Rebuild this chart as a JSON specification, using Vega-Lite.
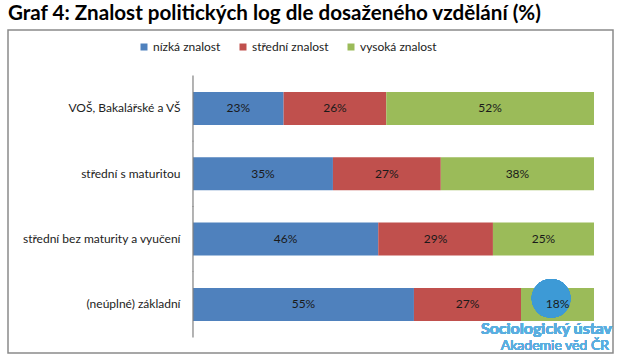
{
  "$schema": "https://vega.github.io/schema/vega-lite/v6.json",
  "width": 605,
  "height": 323,
  "autosize": {"type": "none"},
  "padding": {"left": 8, "top": 30, "right": 7, "bottom": 10},
  "background": "white",
  "title": {"text": "Graf 4: Znalost politických log dle dosaženého vzdělání (%)", "anchor": "start", "font": "Lato", "fontSize": 20.6, "fontWeight": "bold", "color": "#000000", "offset": 5},
  "config": {"view": {"stroke": "#8a8a8a", "strokeWidth": 1.5}, "font": "Lato"},
  "data": {"values": [
    {"edu": "VOŠ, Bakalářské a VŠ", "level": "nízká znalost", "share": 0.226, "ord": 1},
    {"edu": "VOŠ, Bakalářské a VŠ", "level": "střední znalost", "share": 0.256, "ord": 2},
    {"edu": "VOŠ, Bakalářské a VŠ", "level": "vysoká znalost", "share": 0.518, "ord": 3},
    {"edu": "střední s maturitou", "level": "nízká znalost", "share": 0.349, "ord": 1},
    {"edu": "střední s maturitou", "level": "střední znalost", "share": 0.269, "ord": 2},
    {"edu": "střední s maturitou", "level": "vysoká znalost", "share": 0.382, "ord": 3},
    {"edu": "střední bez maturity a vyučení", "level": "nízká znalost", "share": 0.462, "ord": 1},
    {"edu": "střední bez maturity a vyučení", "level": "střední znalost", "share": 0.286, "ord": 2},
    {"edu": "střední bez maturity a vyučení", "level": "vysoká znalost", "share": 0.252, "ord": 3},
    {"edu": "(neúplné) základní", "level": "nízká znalost", "share": 0.551, "ord": 1},
    {"edu": "(neúplné) základní", "level": "střední znalost", "share": 0.267, "ord": 2},
    {"edu": "(neúplné) základní", "level": "vysoká znalost", "share": 0.182, "ord": 3}
  ]},
  "layer": [
    {
      "mark": {"type": "bar"},
      "encoding": {
        "y": {"field": "edu", "type": "nominal", "sort": ["VOŠ, Bakalářské a VŠ", "střední s maturitou", "střední bez maturity a vyučení", "(neúplné) základní"],
          "scale": {"paddingInner": 0.495, "paddingOuter": 0.72, "align": 0.659},
          "axis": {"orient": "left", "offset": -185, "title": null, "ticks": false, "domain": false, "labelPadding": 13, "labelFontSize": 12, "labelColor": "#222222", "labelLimit": 250, "labelFont": "Lato"}},
        "x": {"field": "share", "type": "quantitative", "stack": "zero", "scale": {"domain": [-0.4613, 1.0474], "nice": false, "zero": false}, "axis": null},
        "color": {"field": "level", "type": "nominal",
          "scale": {"domain": ["nízká znalost", "střední znalost", "vysoká znalost"], "range": ["#4F81BD", "#C0504D", "#9BBB59"]},
          "legend": {"orient": "none", "legendX": 130, "legendY": 11, "direction": "horizontal", "title": null, "symbolType": "square", "symbolSize": 49, "symbolStrokeWidth": 0, "labelFontSize": 12, "labelFont": "Lato", "labelColor": "#222222", "columnPadding": 16, "symbolOffset": 0, "labelOffset": 3}},
        "order": {"field": "ord", "type": "quantitative"}
      }
    },
    {
      "mark": {"type": "point", "filled": true, "size": 1500, "fill": "#3d9ad6", "fillOpacity": 0.8, "strokeWidth": 0, "yOffset": -6, "xOffset": 2},
      "encoding": {
        "x": {"datum": 0.888},
        "y": {"datum": "(neúplné) základní", "type": "nominal"}
      }
    },
    {
      "mark": {"type": "text", "fontSize": 12, "font": "Lato", "color": "#1a1a1a"},
      "encoding": {
        "y": {"field": "edu", "type": "nominal", "sort": ["VOŠ, Bakalářské a VŠ", "střední s maturitou", "střední bez maturity a vyučení", "(neúplné) základní"]},
        "x": {"field": "share", "type": "quantitative", "stack": "zero", "bandPosition": 0.5},
        "text": {"field": "share", "type": "quantitative", "format": ".0%"},
        "order": {"field": "ord", "type": "quantitative"}
      }
    },
    {
      "transform": [{"filter": "datum.ord == 1"}],
      "mark": {"type": "tick", "orient": "vertical", "color": "#808080", "opacity": 1, "thickness": 1.2, "size": 66},
      "encoding": {
        "x": {"datum": 0},
        "y": {"field": "edu", "type": "nominal", "sort": ["VOŠ, Bakalářské a VŠ", "střední s maturitou", "střední bez maturity a vyučení", "(neúplné) základní"]}
      }
    },
    {
      "mark": {"type": "text", "align": "right", "fontSize": 16, "font": "Lato", "fontWeight": "bold", "color": "#5aaee0", "yOffset": 25, "dx": -1},
      "encoding": {
        "x": {"datum": 1.0474},
        "y": {"datum": "(neúplné) základní", "type": "nominal"},
        "text": {"value": "Sociologický ústav"}
      }
    },
    {
      "mark": {"type": "text", "align": "right", "fontSize": 14, "font": "Lato", "color": "#5aaee0", "yOffset": 42, "dx": -4},
      "encoding": {
        "x": {"datum": 1.0474},
        "y": {"datum": "(neúplné) základní", "type": "nominal"},
        "text": {"value": "Akademie věd ČR"}
      }
    }
  ]
}
